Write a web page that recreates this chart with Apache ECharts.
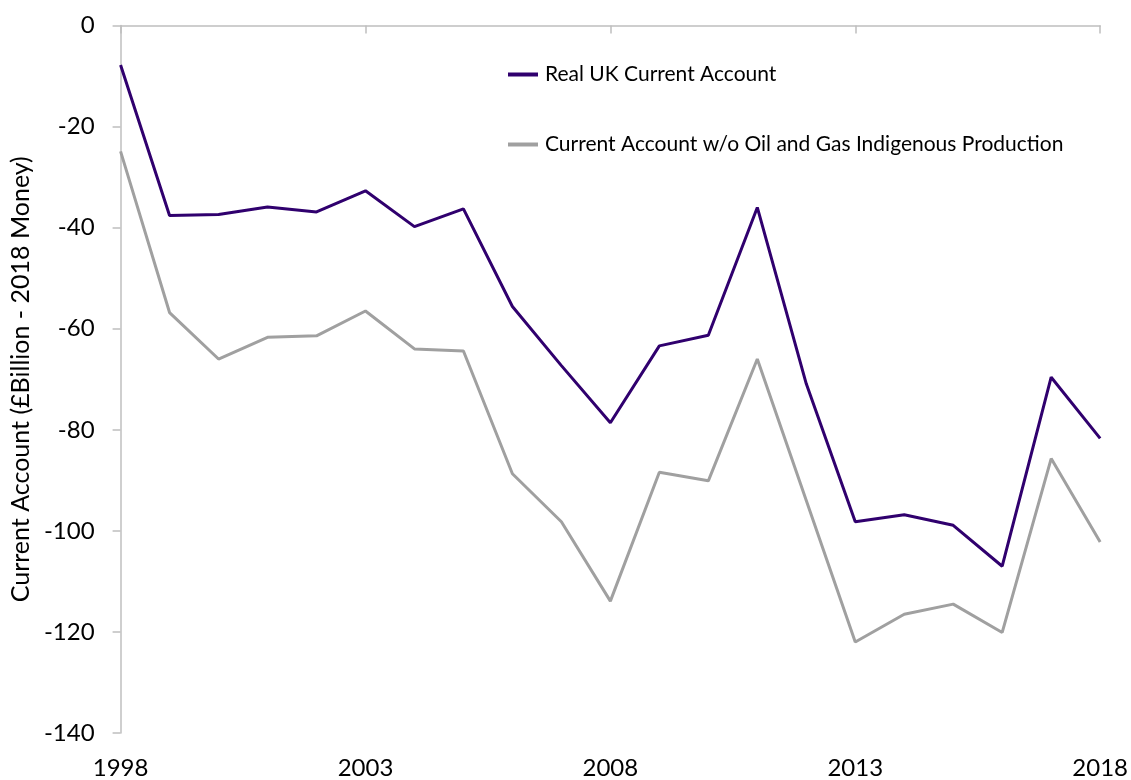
<!DOCTYPE html>
<html>
<head>
<meta charset="utf-8">
<script src="https://cdn.jsdelivr.net/npm/echarts@6/dist/echarts.min.js"></script>
<style>
html,body{margin:0;padding:0;background:#fff;}
#chart{width:1131px;height:780px;}
</style>
</head>
<body>
<div id="chart"></div>
<script>
const years = ['1998','1999','2000','2001','2002','2003','2004','2005','2006','2007','2008','2009','2010','2011','2012','2013','2014','2015','2016','2017','2018'];
const realUK = [-7.8,-37.6,-37.4,-35.9,-36.9,-32.7,-39.8,-36.3,-55.6,-67.3,-78.6,-63.4,-61.3,-36.0,-70.9,-98.2,-96.8,-98.9,-107.0,-69.6,-81.7];
const withoutOil = [-24.9,-56.8,-66.0,-61.7,-61.4,-56.5,-64.0,-64.4,-88.7,-98.2,-113.9,-88.4,-90.1,-66.0,-94.0,-122.0,-116.5,-114.5,-120.1,-85.7,-102.2];
const seriesNames = ['Real UK Current Account','Current Account w/o Oil and Gas Indigenous Production'];
const yAxisTitle = 'Current Account (£Billion - 2018 Money)';

const FONT = 'Lato';
const chart = echarts.init(document.getElementById('chart'));
chart.setOption({
  animation: false,
  backgroundColor: '#ffffff',
  textStyle: { fontFamily: FONT },
  grid: { left: 120, right: 28, top: 25.5, bottom: 45 },
  legend: {
    orient: 'vertical',
    left: 503,
    top: 59,
    itemGap: 49,
    itemWidth: 30,
    itemHeight: 4,
    icon: 'rect',
    textStyle: { fontFamily: FONT, fontSize: 21, color: '#000', padding: [0,0,0,2] },
    data: seriesNames
  },
  xAxis: [
    {
      type: 'category',
      data: years,
      boundaryGap: false,
      position: 'bottom',
      axisLine: { show: false, onZero: false },
      axisTick: { show: false },
      axisLabel: { interval: 4, fontSize: 24, color: '#000', margin: 23, fontFamily: FONT }
    },
    {
      type: 'category',
      data: years,
      boundaryGap: false,
      position: 'top',
      axisLine: { show: true, onZero: false, lineStyle: { color: '#bfbfbf', width: 1.5 } },
      axisTick: { show: true, inside: true, interval: 4, length: 8, lineStyle: { color: '#bfbfbf', width: 1.5 } },
      axisLabel: { show: false }
    }
  ],
  yAxis: {
    type: 'value',
    min: -140,
    max: 0,
    interval: 20,
    name: yAxisTitle,
    nameLocation: 'middle',
    nameRotate: 90,
    nameGap: 82,
    nameTextStyle: { fontSize: 25, color: '#000', fontFamily: FONT },
    splitLine: { show: false },
    axisLine: { show: true, lineStyle: { color: '#bfbfbf', width: 1.5 } },
    axisTick: { show: true, length: 8, lineStyle: { color: '#bfbfbf', width: 1.5 } },
    axisLabel: { fontSize: 24, color: '#000', margin: 26, fontFamily: FONT }
  },
  series: [
    {
      name: seriesNames[0],
      type: 'line',
      data: realUK,
      xAxisIndex: 0,
      symbol: 'none',
      lineStyle: { color: '#30006e', width: 3 },
      itemStyle: { color: '#30006e' }
    },
    {
      name: seriesNames[1],
      type: 'line',
      data: withoutOil,
      xAxisIndex: 0,
      symbol: 'none',
      lineStyle: { color: '#a0a0a0', width: 3 },
      itemStyle: { color: '#a0a0a0' }
    }
  ]
});
</script>
</body>
</html>
